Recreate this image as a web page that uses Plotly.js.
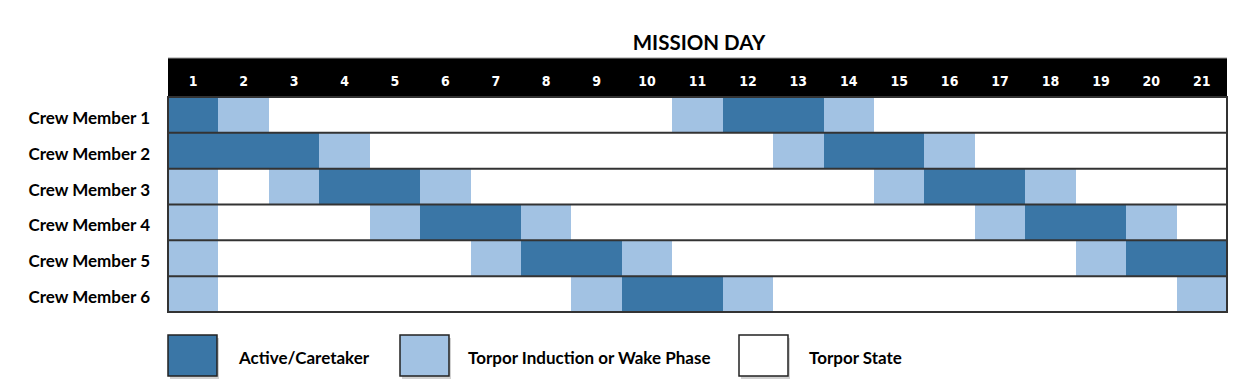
<!DOCTYPE html>
<html>
<head>
<meta charset="utf-8">
<script src="https://cdn.plot.ly/plotly-3.0.1.min.js"></script>
<style>html,body{margin:0;padding:0;background:#fff;}#chart{width:1260px;height:390px;}</style>
</head>
<body>
<div id="chart"></div>
<script>
// ---- data ----
const days = [1,2,3,4,5,6,7,8,9,10,11,12,13,14,15,16,17,18,19,20,21];
const crew = ["Crew Member 1","Crew Member 2","Crew Member 3","Crew Member 4","Crew Member 5","Crew Member 6"];
// state codes: 0 = Torpor State, 1 = Torpor Induction or Wake Phase, 2 = Active/Caretaker
const crew1 = [2,1,0,0,0,0,0,0,0,0,1,2,2,1,0,0,0,0,0,0,0];
const crew2 = [2,2,2,1,0,0,0,0,0,0,0,0,1,2,2,1,0,0,0,0,0];
const crew3 = [1,0,1,2,2,1,0,0,0,0,0,0,0,0,1,2,2,1,0,0,0];
const crew4 = [1,0,0,0,1,2,2,1,0,0,0,0,0,0,0,0,1,2,2,1,0];
const crew5 = [1,0,0,0,0,0,1,2,2,1,0,0,0,0,0,0,0,0,1,2,2];
const crew6 = [1,0,0,0,0,0,0,0,1,2,2,1,0,0,0,0,0,0,0,0,1];
const stateLabels = ["Torpor State","Torpor Induction or Wake Phase","Active/Caretaker"];
const legendOrder = [2,1,0];
const titleText = "MISSION DAY";

// ---- style ----
const stateColors = ["#ffffff","#a2c2e3","#3a76a6"];
const W = 1260, H = 390;
const L = 168, R = 1227, T = 96, B = 313;
const pw = R - L, ph = B - T;
const px = x => (x - L) / pw;
const py = y => (B - y) / ph;

const z = [crew1,crew2,crew3,crew4,crew5,crew6];

const shapes = [];
// header band
shapes.push({type:"rect", xref:"paper", yref:"paper", x0:0, x1:1, y0:1, y1:py(58),
  fillcolor:"#000", line:{width:0}, layer:"below"});
shapes.push({type:"line", xref:"paper", yref:"paper", x0:0, x1:1, y0:py(58), y1:py(58), line:{color:"#999", width:1}});
// row separators
for (let i = 0; i <= crew.length; i++) {
  shapes.push({type:"line", xref:"paper", yref:"y", x0:0, x1:1, y0:i-0.5, y1:i-0.5,
    line:{color:"#333", width:2}});
}
// left/right borders
shapes.push({type:"line", xref:"paper", yref:"paper", x0:0, x1:0, y0:0, y1:1, line:{color:"#333", width:2}});
shapes.push({type:"line", xref:"paper", yref:"paper", x0:1, x1:1, y0:0, y1:1, line:{color:"#333", width:2}});

// legend boxes
const annotations = [];
const boxX = [168, 400, 739];
const textX = [236, 466, 807];
legendOrder.forEach((s, k) => {
  const x0 = boxX[k], x1 = boxX[k] + 49, y0 = 335, y1 = 376;
  shapes.push({type:"rect", xref:"paper", yref:"paper", x0:px(x0+2), x1:px(x1+2), y0:py(y1+3), y1:py(y0+3),
    fillcolor:"rgba(0,0,0,0.18)", line:{width:0}});
  shapes.push({type:"rect", xref:"paper", yref:"paper", x0:px(x0), x1:px(x1), y0:py(y1), y1:py(y0),
    fillcolor:stateColors[s], line:{color:"#222", width:1.5}});
  annotations.push({xref:"paper", yref:"paper", x:px(textX[k]), y:py(357), xanchor:"left", yanchor:"middle",
    text:stateLabels[s], showarrow:false, font:{family:"Lato, sans-serif", size:17, color:"#000", weight:"bold"}});
});

const trace = {
  type:"heatmap",
  x: days, y: crew, z: z,
  zmin:0, zmax:2,
  colorscale:[[0,stateColors[0]],[0.5,stateColors[1]],[1,stateColors[2]]],
  showscale:false, xgap:0, ygap:0,
  hoverinfo:"skip"
};

const layout = {
  width:W, height:H,
  margin:{l:L, r:W-R, t:T, b:H-B, pad:0},
  paper_bgcolor:"#fff", plot_bgcolor:"#fff",
  title:{text:titleText, x:px(699), xanchor:"center", xref:"paper", y:1-43/H, yref:"container", yanchor:"middle",
    font:{family:"Lato, sans-serif", size:20.5, color:"#000", weight:"bold"}},
  xaxis:{side:"top", tickmode:"array", tickvals:days, ticktext:days.map(String), ticks:"", showgrid:false,
    zeroline:false, showline:false, range:[0.5,21.5], fixedrange:true, ticklabelstandoff:6,
    tickfont:{family:"Liberation Sans Narrow, DejaVu Sans Condensed, sans-serif", size:14, color:"#fff", weight:"bold"}},
  yaxis:{autorange:"reversed", ticks:"", showgrid:false, zeroline:false, showline:false, ticklabelstandoff:17,
    ticklabelshift:-3,
    tickfont:{family:"Lato, sans-serif", size:17, color:"#000", weight:"bold"}},
  shapes:shapes, annotations:annotations, showlegend:false
};

Plotly.newPlot("chart", [trace], layout, {displayModeBar:false, staticPlot:true});
</script>
</body>
</html>
